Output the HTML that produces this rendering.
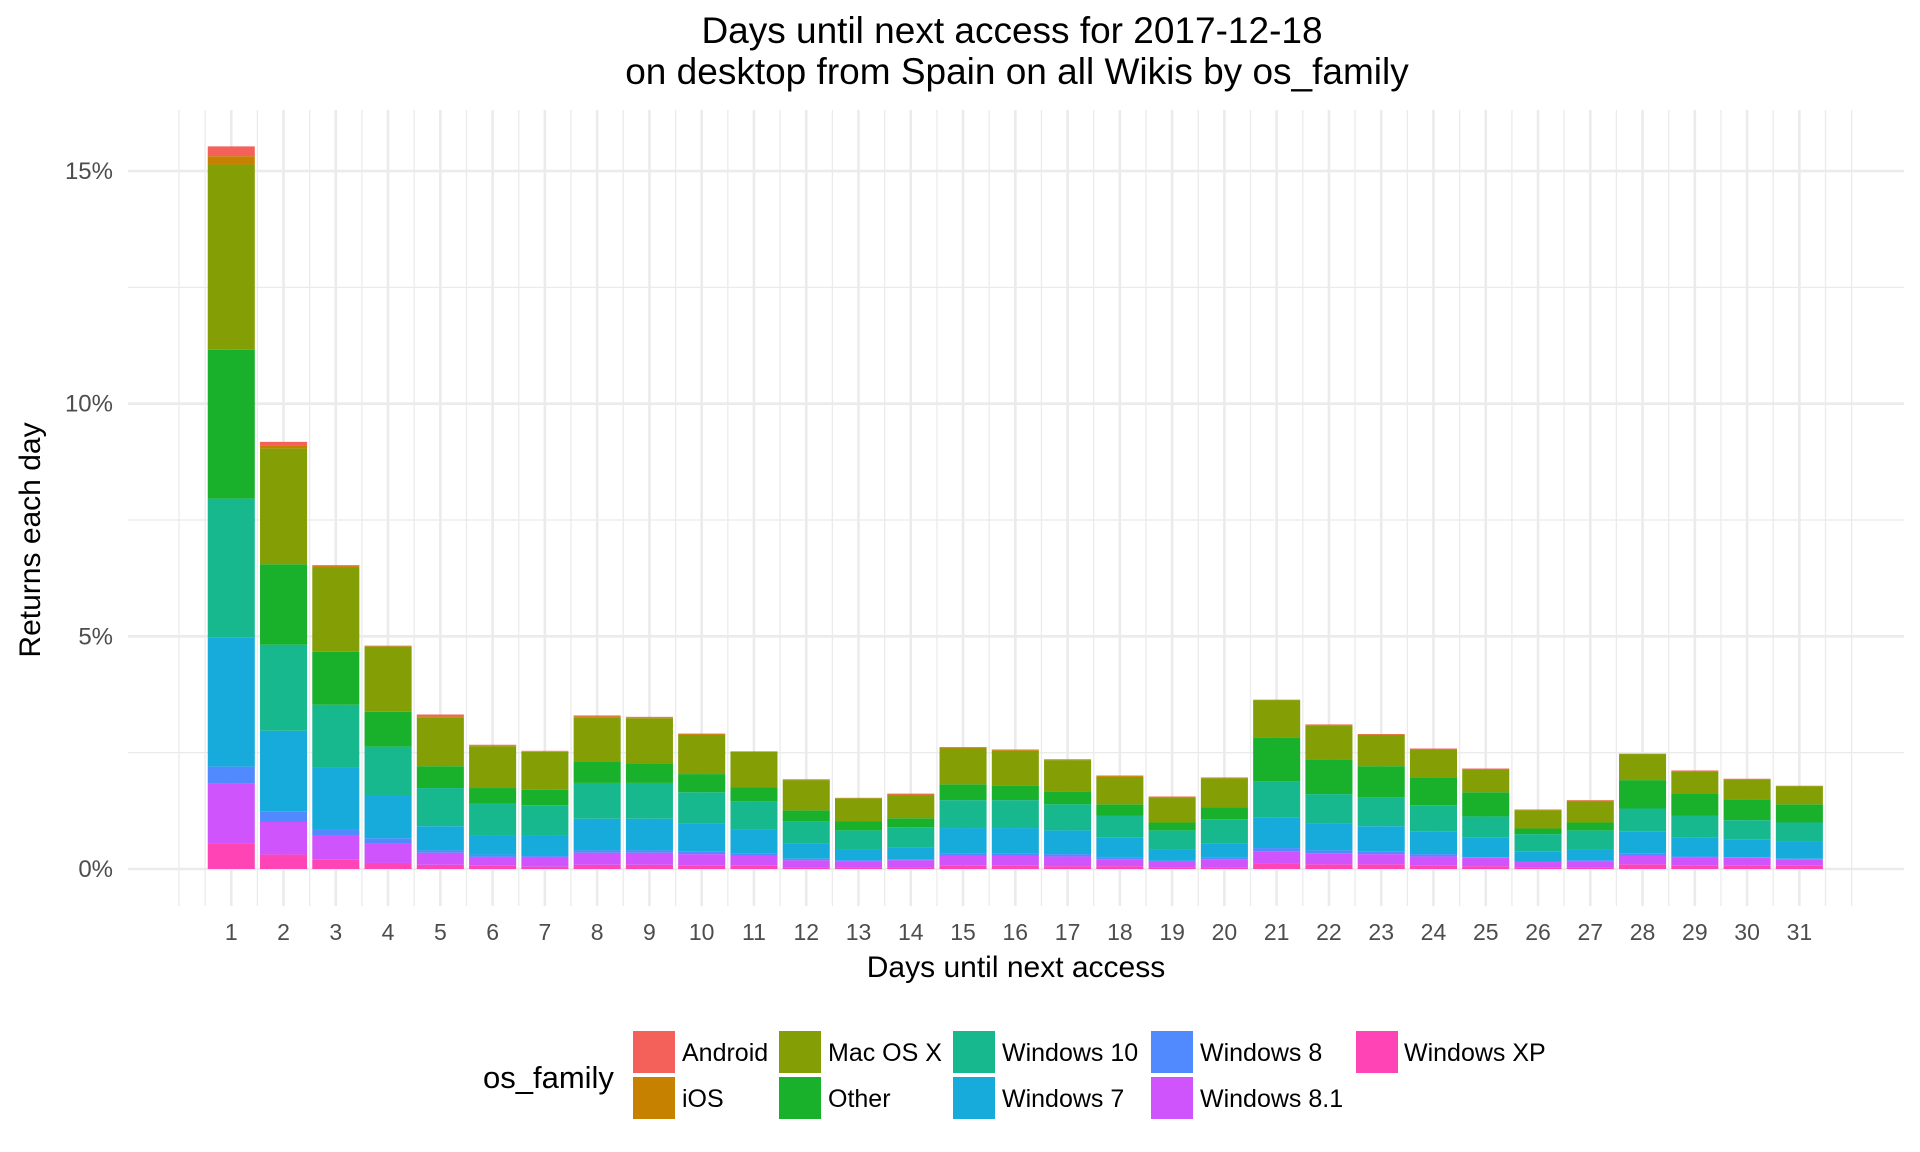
<!DOCTYPE html>
<html><head><meta charset="utf-8"><style>
html,body{margin:0;padding:0;background:#fff}
svg{display:block;font-family:"Liberation Sans",Arial,sans-serif}
</style></head><body>
<svg id="chart" width="1920" height="1152" viewBox="0 0 1920 1152" xmlns="http://www.w3.org/2000/svg">
<text x="1012" y="43" text-anchor="middle" font-size="37" fill="#000">Days until next access for 2017-12-18</text>
<text x="1017" y="84" text-anchor="middle" font-size="37" fill="#000">on desktop from Spain on all Wikis by os_family</text>
<g id="grid"></g>
<g id="bars"></g>
<g id="axes"></g>
<text x="1016" y="977" text-anchor="middle" font-size="30" fill="#000">Days until next access</text>
<text transform="translate(40,540) rotate(-90)" text-anchor="middle" font-size="30" fill="#000">Returns each day</text>
<g id="legend"></g>
</svg>
<script>
const days = [1,2,3,4,5,6,7,8,9,10,11,12,13,14,15,16,17,18,19,20,21,22,23,24,25,26,27,28,29,30,31];
const seriesNames = ["Windows XP","Windows 8.1","Windows 8","Windows 7","Windows 10","Other","Mac OS X","iOS","Android"];
const winXP  = [.55,.31,.20,.13,.09,.07,.05,.09,.09,.08,.08,.04,.03,.03,.08,.08,.06,.06,.04,.04,.12,.10,.10,.08,.06,.04,.04,.10,.08,.08,.08];
const win81  = [1.29,.70,.53,.42,.26,.19,.21,.26,.26,.24,.21,.15,.14,.16,.21,.21,.21,.15,.12,.17,.26,.24,.22,.19,.18,.11,.13,.19,.16,.16,.13];
const win8   = [.36,.22,.12,.11,.05,.05,.03,.05,.05,.06,.04,.03,.02,.02,.04,.04,.05,.03,.02,.03,.07,.06,.06,.05,.01,.01,.02,.05,.03,.01,.01];
const win7   = [2.77,1.74,1.33,.92,.52,.42,.44,.68,.68,.59,.51,.32,.23,.26,.55,.55,.51,.43,.23,.30,.66,.58,.54,.49,.42,.21,.23,.46,.41,.39,.37];
const win10  = [2.99,1.85,1.35,1.05,.82,.67,.64,.77,.77,.68,.62,.49,.41,.43,.60,.60,.56,.48,.42,.53,.78,.63,.62,.56,.46,.38,.41,.50,.47,.41,.41];
const other  = [3.20,1.73,1.14,.75,.47,.34,.33,.45,.42,.39,.30,.23,.20,.19,.34,.32,.28,.24,.17,.26,.94,.75,.67,.60,.52,.12,.17,.61,.48,.45,.39];
const macOSX = [3.98,2.49,1.81,1.40,1.05,.90,.82,.96,.97,.84,.76,.65,.49,.49,.77,.74,.67,.59,.54,.62,.80,.73,.67,.60,.49,.39,.46,.56,.47,.43,.39];
const iOS    = [.18,.07,.03,.01,.02,.01,.01,.02,.01,.02,.005,.01,.005,.02,.02,.02,.01,.02,.01,.01,.005,.01,.01,.01,.01,.01,.01,.005,.01,.005,.005];
const android= [.21,.07,.02,.01,.04,.02,.01,.02,.02,.01,.005,.01,.005,.02,.01,.01,.01,.01,.01,.01,.005,.01,.01,.01,.01,.01,.01,.005,.01,.005,.005];
const yTicks = [0,5,10,15];
const yTickLabels = ["0%","5%","10%","15%"];

const series = [winXP,win81,win8,win7,win10,other,macOSX,iOS,android];
const colors = ["#ff45b5","#d054fb","#5189ff","#17abdb","#18b88f","#19b02b","#849e06","#c78100","#f4615b"];
const NS="http://www.w3.org/2000/svg";
const X0=179, DX=52.27, Y0=869, DY=46.53;
const xs = v => X0 + v*DX;
const ys = v => Y0 - v*DY;
function mk(tag, attrs, parent){const e=document.createElementNS(NS,tag);for(const k in attrs)e.setAttribute(k,attrs[k]);parent.appendChild(e);return e;}
const grid=document.getElementById('grid'), bars=document.getElementById('bars'), axes=document.getElementById('axes'), legend=document.getElementById('legend');
for(let v=0; v<=15; v+=2.5){
  const major = v%5===0;
  const l=mk('line',{x1:128,x2:1904,y1:ys(v),y2:ys(v),stroke:'#ebebeb','stroke-width':major?2.6:1.3},grid);
  
  
}
for(let v=0; v<=32; v+=0.5){
  const major = Number.isInteger(v) && v>=1 && v<=31;
  const l=mk('line',{x1:xs(v),x2:xs(v),y1:110,y2:906,stroke:'#ebebeb','stroke-width':major?2.6:1.3},grid);
  
  
}
const bw = 0.9*DX;
days.forEach((d,i)=>{
  let cum=0;
  series.forEach((s,j)=>{
    const v=s[i];
    const r=mk('rect',{x:xs(d)-bw/2,y:ys(cum+v),width:bw,height:Math.max(0,ys(cum)-ys(cum+v)),fill:colors[j]},bars);
    
    
    cum+=v;
  });
});
yTicks.forEach((v,i)=>{
  const t=mk('text',{x:113,y:ys(v)+8,'text-anchor':'end','font-size':24,fill:'#4d4d4d'},axes);
  t.textContent=yTickLabels[i];
  
  
});
days.forEach(d=>{
  const t=mk('text',{x:xs(d),y:940,'text-anchor':'middle','font-size':23,fill:'#4d4d4d'},axes);
  t.textContent=String(d);
  
  
});
const lt=mk('text',{x:483,y:1088,'font-size':31,fill:'#000'},legend);
lt.textContent='os_family';


const legOrder=[8,7,6,5,4,3,2,1,0];
const colX=[633,779,953,1151,1356], labX=[682,828,1002,1200,1404], rowY=[1031,1077];
legOrder.forEach((si,k)=>{
  const c=Math.floor(k/2), r=k%2;
  const g=mk('g',{},legend);
  
  
  mk('rect',{x:colX[c],y:rowY[r],width:42,height:42,fill:colors[si]},g);
  const t=mk('text',{x:labX[c],y:rowY[r]+30,'font-size':25,fill:'#000'},g);
  t.textContent=seriesNames[si];
});
</script>
</body></html>
